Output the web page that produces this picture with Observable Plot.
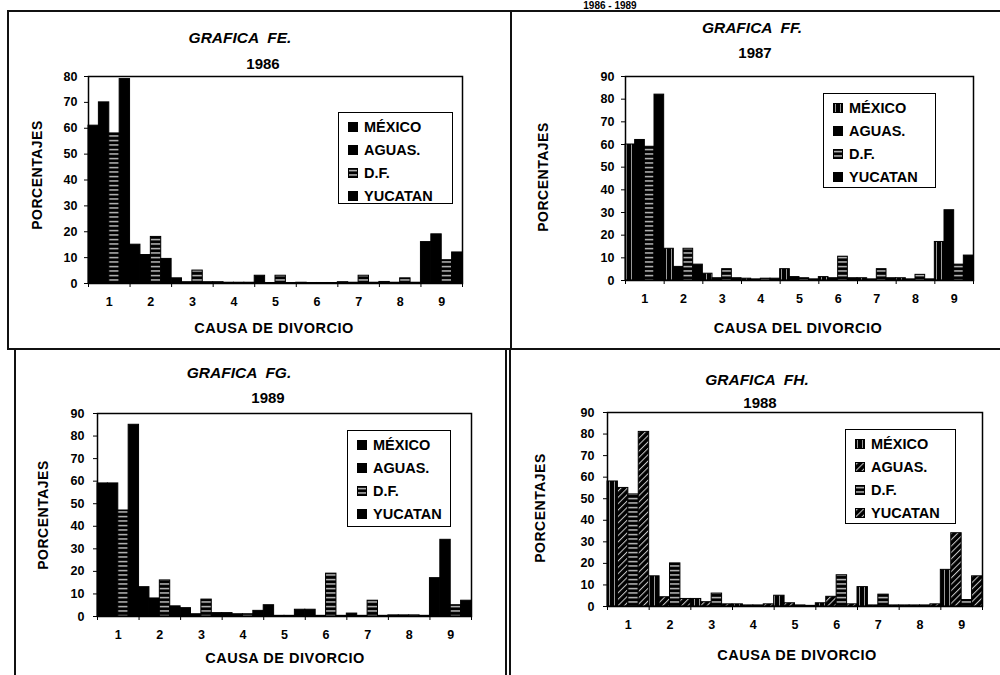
<!DOCTYPE html>
<html><head><meta charset="utf-8">
<script src="https://cdn.jsdelivr.net/npm/d3@7"></script>
<script src="https://cdn.jsdelivr.net/npm/@observablehq/plot@0.6"></script>
<style>
body{margin:0;background:#fff;}
#page{position:relative;width:1000px;height:675px;overflow:hidden;background:#fff;font-family:Arial,"Liberation Sans",sans-serif;color:#000;}
.ln{position:absolute;background:#111;}
.t{position:absolute;white-space:nowrap;transform:translate(-50%,-50%);font-weight:bold;}
.ttl{font-style:italic;font-size:15.5px;}
.yr{font-size:15px;}
.xl{font-size:14.5px;letter-spacing:0.5px;}
.yl{font-size:14px;letter-spacing:0.5px;transform:translate(-50%,-50%) rotate(-90deg);}
.leg{position:absolute;border:1.5px solid #000;background:#fff;box-sizing:border-box;padding-top:2px;}
.row{height:23px;display:flex;align-items:center;font-weight:bold;font-size:14.5px;white-space:nowrap;}
.row svg{margin-right:6px;flex:none;}
.plotsvg{position:absolute;}
</style>
</head><body>
<div id="page">
<svg width="0" height="0" style="position:absolute">
  <defs>
    <pattern id="pHS" patternUnits="userSpaceOnUse" width="6" height="4.5">
      <rect width="6" height="4.5" fill="#000"/><rect y="2" width="6" height="1.1" fill="#fff"/>
    </pattern>
    <pattern id="pVS" patternUnits="userSpaceOnUse" width="5" height="6">
      <rect width="5" height="6" fill="#000"/><rect x="2" width="0.6" height="6" fill="#fff"/>
    </pattern>
    <pattern id="pDG" patternUnits="userSpaceOnUse" width="4.5" height="4.5" patternTransform="rotate(45)">
      <rect width="4.5" height="4.5" fill="#000"/><rect x="2" width="0.8" height="4.5" fill="#fff"/>
    </pattern>
  </defs>
</svg>
</div>
<script>
// ---- data ----
const categories = [1, 2, 3, 4, 5, 6, 7, 8, 9];
const seriesNames = ["MÉXICO", "AGUAS.", "D.F.", "YUCATAN"];
const yTicks80 = [0, 10, 20, 30, 40, 50, 60, 70, 80];
const yTicks90 = [0, 10, 20, 30, 40, 50, 60, 70, 80, 90];

// Gráfica FE, 1986
const fe_mexico  = [61, 15, 2, 0.5, 3, 0.3, 0.5, 0.6, 16];
const fe_aguas   = [70, 11, 0.5, 0.3, 0.2, 0.2, 0.3, 0.3, 19];
const fe_df      = [58, 18, 5, 0.3, 3, 0.2, 3, 2, 9];
const fe_yucatan = [79, 9.5, 0.5, 0.3, 0.2, 0.2, 0.3, 0.3, 12];
// Gráfica FF, 1987
const ff_mexico  = [60, 14, 3, 0.8, 5, 1.5, 1, 1, 17];
const ff_aguas   = [62, 6, 1, 0.5, 1.5, 1, 0.5, 0.5, 31];
const ff_df      = [59, 14, 5, 0.8, 1, 10.5, 5, 2.5, 7];
const ff_yucatan = [82, 7, 1, 0.8, 0.5, 1, 1, 0.5, 11];
// Gráfica FG, 1989
const fg_mexico  = [59, 13, 3.7, 1.5, 5, 3, 1.3, 0.5, 17];
const fg_aguas   = [59, 8, 1, 1, 0.3, 0.3, 0.3, 0.5, 34];
const fg_df      = [47, 16, 7.5, 1, 0.3, 19, 7, 0.5, 5];
const fg_yucatan = [85, 4.5, 1.5, 2.5, 3, 0.3, 0.3, 0.3, 7];
// Gráfica FH, 1988
const fh_mexico  = [58, 14, 3.5, 1, 5, 1.5, 9, 0.5, 17];
const fh_aguas   = [55, 4.3, 2, 0.5, 1.5, 4.5, 0.5, 0.5, 34];
const fh_df      = [52, 20, 6, 0.5, 0.5, 14.5, 5.5, 0.5, 3];
const fh_yucatan = [81, 3.5, 1, 1, 0.3, 1, 0.5, 1, 14];

const headerText = "1986 - 1989";

// ---- layout (positions/styles) ----
const panels = [
  {title: "GRAFICA  FE.", year: "1986", xlabel: "CAUSA DE DIVORCIO", ylabel: "PORCENTAJES",
   values: [fe_mexico, fe_aguas, fe_df, fe_yucatan], ymax: 80, yTicks: yTicks80,
   fills: ["#000", "#000", "url(#pHS)", "#000"],
   svg: {left: 10, top: 12, width: 495, height: 335}, m: {l: 78, r: 43, t: 64, b: 64},
   tt: [240, 38], yt: [263, 63], ylp: [37, 175], xlp: [274, 328], tp: 7,
   leg: {x: 338, y: 112, w: 115, h: 92}},
  {title: "GRAFICA  FF.", year: "1987", xlabel: "CAUSA DEL DIVORCIO", ylabel: "PORCENTAJES",
   values: [ff_mexico, ff_aguas, ff_df, ff_yucatan], ymax: 90, yTicks: yTicks90,
   fills: ["url(#pVS)", "#000", "url(#pHS)", "#000"],
   svg: {left: 514, top: 12, width: 486, height: 335}, m: {l: 111, r: 27, t: 64, b: 67},
   tt: [752, 28], yt: [755, 52], ylp: [543, 177], xlp: [798, 328], tp: 7,
   leg: {x: 823, y: 93, w: 113, h: 95}},
  {title: "GRAFICA  FG.", year: "1989", xlabel: "CAUSA DE DIVORCIO", ylabel: "PORCENTAJES",
   values: [fg_mexico, fg_aguas, fg_df, fg_yucatan], ymax: 90, yTicks: yTicks90,
   fills: ["#000", "#000", "url(#pHS)", "#000"],
   svg: {left: 16, top: 352, width: 488, height: 323}, m: {l: 81, r: 33, t: 61, b: 59},
   tt: [239, 373], yt: [268, 397], ylp: [43, 515], xlp: [285, 658], tp: 9,
   leg: {x: 347, y: 430, w: 104, h: 97}},
  {title: "GRAFICA  FH.", year: "1988", xlabel: "CAUSA DE DIVORCIO", ylabel: "PORCENTAJES",
   values: [fh_mexico, fh_aguas, fh_df, fh_yucatan], ymax: 90, yTicks: yTicks90,
   fills: ["url(#pVS)", "url(#pDG)", "url(#pHS)", "url(#pDG)"],
   svg: {left: 512, top: 352, width: 488, height: 323}, m: {l: 95, r: 18, t: 60, b: 69},
   tt: [757, 380], yt: [760, 402], ylp: [540, 508], xlp: [797, 655], tp: 9,
   leg: {x: 845, y: 429, w: 111, h: 95}}
];

const page = document.getElementById("page");
function addDiv(cls, text, x, y) {
  const d = document.createElement("div");
  d.className = cls; d.textContent = text;
  d.style.left = x + "px"; d.style.top = y + "px";
  page.appendChild(d); return d;
}
function addLine(x, y, w, h) {
  const d = document.createElement("div");
  d.className = "ln";
  Object.assign(d.style, {left: x + "px", top: y + "px", width: w + "px", height: h + "px"});
  page.appendChild(d);
}
// frame lines of the scanned page
addLine(8, 10, 992, 2);
addLine(7, 10, 2, 340);
addLine(14, 349, 2, 326);
addLine(8, 348, 992, 2);
addLine(510, 10, 2, 340);
addLine(505, 349, 1.5, 326);
addLine(509, 349, 1.5, 326);

const hdr = addDiv("t", headerText, 610, 5);
hdr.style.fontSize = "10px";

const boundaries = categories.map(c => c - 0.5).concat([categories[categories.length - 1] + 0.5]);

panels.forEach(p => {
  const marks = [];
  p.values.forEach((vals, si) => {
    const rows = categories.map((c, ci) => ({cat: c, value: vals[ci]}));
    marks.push(Plot.rect(rows, {
      x1: d => d.cat - 0.5 + si * 0.25,
      x2: d => d.cat - 0.25 + si * 0.25,
      y1: () => 0, y2: "value",
      fill: p.fills[si], stroke: "#000", strokeWidth: 1
    }));
  });
  marks.push(
    Plot.axisY({ticks: p.yTicks, tickSize: 4, tickPadding: p.tp, label: null, fontSize: 12.5, fontWeight: "bold"}),
    Plot.axisX({ticks: categories, tickSize: 0, tickPadding: 14, label: null, fontSize: 12.5, fontWeight: "bold"}),
    Plot.axisX({ticks: boundaries, tickSize: 4, tickFormat: () => "", label: null}),
    Plot.frame({stroke: "#000", strokeWidth: 1.5})
  );
  const svg = Plot.plot({
    width: p.svg.width, height: p.svg.height,
    marginLeft: p.m.l, marginRight: p.m.r, marginTop: p.m.t, marginBottom: p.m.b,
    x: {domain: [0.5, 9.5]},
    y: {domain: [0, p.ymax]},
    style: {background: "transparent", fontFamily: "Arial, 'Liberation Sans', sans-serif", color: "#000", overflow: "visible"},
    marks
  });
  svg.classList.add("plotsvg");
  svg.style.left = p.svg.left + "px";
  svg.style.top = p.svg.top + "px";
  page.appendChild(svg);

  addDiv("t ttl", p.title, p.tt[0], p.tt[1]).style.whiteSpace = "pre";
  addDiv("t yr", p.year, p.yt[0], p.yt[1]);
  addDiv("t xl", p.xlabel, p.xlp[0], p.xlp[1]);
  addDiv("t yl", p.ylabel, p.ylp[0], p.ylp[1]);

  const leg = document.createElement("div");
  leg.className = "leg";
  Object.assign(leg.style, {left: p.leg.x + "px", top: p.leg.y + "px", width: p.leg.w + "px", height: p.leg.h + "px", paddingLeft: "9px"});
  seriesNames.forEach((name, si) => {
    const row = document.createElement("div");
    row.className = "row";
    const sw = d3.create("svg").attr("width", 10).attr("height", 10);
    sw.append("rect").attr("x", 0.5).attr("y", 0.5).attr("width", 9).attr("height", 9)
      .attr("fill", p.fills[si]).attr("stroke", "#000").attr("stroke-width", 1);
    row.appendChild(sw.node());
    const sp = document.createElement("span"); sp.textContent = name;
    row.appendChild(sp);
    leg.appendChild(row);
  });
  page.appendChild(leg);
});
</script>
</body></html>
